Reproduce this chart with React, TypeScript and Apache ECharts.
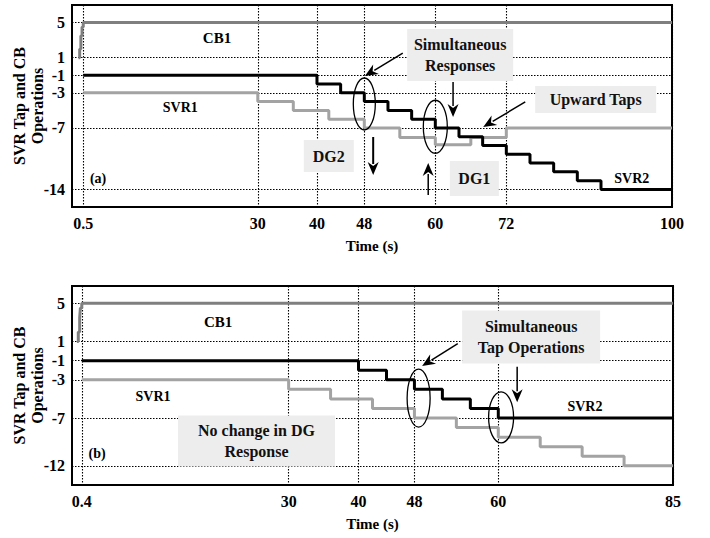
import React, { useEffect, useRef } from "react";
import * as echarts from "echarts";

// ---------- tick labels ----------
const topXTicks = [0.5, 30, 40, 48, 60, 72, 100];
const topYTicks = [5, 1, -1, -3, -7, -14];
const botXTicks = [0.4, 30, 40, 48, 60, 85];
const botYTicks = [5, 1, -1, -3, -7, -12];

// ---------- series (time s, tap position) : (a) ----------
const topCB1: [number, number][] = [
  [-0.3, 1], [-0.1, 2], [0.1, 3.5], [0.3, 4.5], [0.5, 5], [100, 5],
];
const topSVR1: [number, number][] = [
  [0.5, -3], [30, -4], [36, -5], [42, -6], [48, -7], [54, -8.1], [60, -8.9],
  [66, -8.1], [72, -7], [100, -7],
];
const topSVR2: [number, number][] = [
  [0.5, -1], [40, -2], [44, -3], [48, -4], [52, -5], [56, -6], [60, -7],
  [64, -8], [68, -9], [72, -10], [76, -11], [80, -12], [84, -13], [88, -14],
  [100, -14],
];

// ---------- series : (b) ----------
const botCB1: [number, number][] = [
  [-0.3, 1], [-0.1, 2], [0.1, 3.5], [0.2, 4.5], [0.4, 5], [85, 5],
];
const botSVR1: [number, number][] = [
  [0.4, -3], [30, -4], [36, -5], [42, -6], [48, -7], [54, -8], [60, -9],
  [66, -10], [72, -11], [78, -12], [85, -12],
];
const botSVR2: [number, number][] = [
  [0.4, -1], [40, -2], [44, -3], [48, -4], [52, -5], [56, -6], [60, -7],
  [85, -7],
];

const FONT = '"Liberation Serif", "Times New Roman", serif';
const C_CB = "#7f7f7f";
const C_SVR1 = "#a3a3a3";
const C_SVR2 = "#000000";

function axisX(grid: number, min: number, max: number, ticks: number[]) {
  return {
    type: "value",
    gridIndex: grid,
    min,
    max,
    name: "Time (s)",
    nameLocation: "middle",
    nameGap: 31,
    nameMoveOverlap: false,
    nameTextStyle: { fontFamily: FONT, fontWeight: "bold", fontSize: 15, color: "#000" },
    axisLine: { show: false },
    axisTick: { show: false, customValues: ticks },
    axisLabel: {
      customValues: ticks,
      fontFamily: FONT,
      fontWeight: "bold",
      fontSize: 16,
      color: "#000",
      margin: 8,
    },
    splitLine: { show: true, lineStyle: { color: "#000", width: 1.1, type: [1.5, 1.5] } },
  };
}

function axisY(grid: number, min: number, max: number, ticks: number[]) {
  return {
    type: "value",
    gridIndex: grid,
    min,
    max,
    name: "SVR Tap and CB\nOperations",
    nameLocation: "middle",
    nameGap: 26,
    nameMoveOverlap: false,
    nameTextStyle: {
      fontFamily: FONT,
      fontWeight: "bold",
      fontSize: 16,
      color: "#000",
      lineHeight: 18,
    },
    axisLine: { show: false },
    axisTick: { show: false, customValues: ticks },
    axisLabel: {
      customValues: ticks,
      fontFamily: FONT,
      fontWeight: "bold",
      fontSize: 16,
      color: "#000",
      margin: 7,
    },
    splitLine: { show: true, lineStyle: { color: "#000", width: 1.1, type: [1.5, 1.5] } },
  };
}

function line(name: string, data: [number, number][], color: string, idx: number) {
  return {
    name,
    type: "line",
    step: "end",
    xAxisIndex: idx,
    yAxisIndex: idx,
    data,
    symbol: "none",
    lineStyle: { color, width: 3 },
    z: 3,
  };
}

// ---------- annotations (data coordinates) ----------
type Label = { g: number; x: number; y: number; text: string; size: number };
const labels: Label[] = [
  { g: 0, x: 23.1, y: 3.2, text: "CB1", size: 15 },
  { g: 0, x: 16.9, y: -4.7, text: "SVR1", size: 14 },
  { g: 0, x: 93.2, y: -12.8, text: "SVR2", size: 14 },
  { g: 0, x: 3.0, y: -12.8, text: "(a)", size: 14 },
  { g: 1, x: 19.9, y: 3.0, text: "CB1", size: 15 },
  { g: 1, x: 10.6, y: -4.8, text: "SVR1", size: 14 },
  { g: 1, x: 72.4, y: -5.8, text: "SVR2", size: 14 },
  { g: 1, x: 2.6, y: -10.7, text: "(b)", size: 14 },
];
type Box = { g: number; x: number; y: number; w: number; h: number; text: string };
const boxes: Box[] = [
  { g: 0, x: 64.2, y: 1.3, w: 106, h: 52, text: "Simultaneous\nResponses" },
  { g: 0, x: 87.1, y: -3.76, w: 121, h: 27, text: "Upward Taps" },
  { g: 0, x: 42.0, y: -10.2, w: 50, h: 32, text: "DG2" },
  { g: 0, x: 66.6, y: -12.75, w: 49, h: 35, text: "DG1" },
  { g: 1, x: 25.4, y: -9.41, w: 157, h: 51, text: "No change in DG\nResponse" },
  { g: 1, x: 64.7, y: 1.46, w: 138, h: 53, text: "Simultaneous\nTap Operations" },
];
type Ell = { g: number; x: number; y: number; rx: number; ry: number };
const ellipses: Ell[] = [
  { g: 0, x: 48, y: -4.27, rx: 11, ry: 26 },
  { g: 0, x: 60, y: -6.86, rx: 12, ry: 26.5 },
  { g: 1, x: 48.6, y: -4.92, rx: 11.5, ry: 29 },
  { g: 1, x: 60.4, y: -6.93, rx: 12.5, ry: 25.5 },
];
type Arrow = { g: number; x1: number; y1: number; x2: number; y2: number; w: number };
const arrows: Arrow[] = [
  { g: 0, x1: 54.5, y1: 1.53, x2: 48.1, y2: -1.08, w: 1.5 },
  { g: 0, x1: 63.0, y1: -1.77, x2: 63.0, y2: -5.75, w: 1.5 },
  { g: 0, x1: 75.2, y1: -4.04, x2: 68.1, y2: -6.89, w: 1.5 },
  { g: 0, x1: 49.5, y1: -8.03, x2: 49.5, y2: -12.36, w: 2 },
  { g: 0, x1: 58.8, y1: -14.63, x2: 58.8, y2: -10.99, w: 1.5 },
  { g: 1, x1: 54.2, y1: 0.77, x2: 49.1, y2: -1.55, w: 1.5 },
  { g: 1, x1: 62.7, y1: -1.65, x2: 62.7, y2: -5.35, w: 1.5 },
];

export default function App() {
  const ref = useRef<HTMLDivElement>(null);
  useEffect(() => {
    if (!ref.current) return;
    const chart = echarts.init(ref.current, null, { renderer: "svg" });
    const gridBase = {
      show: true,
      borderColor: "#000",
      borderWidth: 2,
      containLabel: false,
      outerBoundsMode: "none",
    };
    chart.setOption({
      animation: false,
      backgroundColor: "#fff",
      grid: [
        { ...gridBase, left: 72, top: 5, width: 600, height: 202 },
        { ...gridBase, left: 72, top: 286, width: 601, height: 199 },
      ],
      xAxis: [axisX(0, -1.4, 100, topXTicks), axisX(1, -1, 85, botXTicks)],
      yAxis: [axisY(0, -16, 7, topYTicks), axisY(1, -14, 6.8, botYTicks)],
      series: [
        line("CB1 (a)", topCB1, C_CB, 0),
        line("SVR1 (a)", topSVR1, C_SVR1, 0),
        line("SVR2 (a)", topSVR2, C_SVR2, 0),
        line("CB1 (b)", botCB1, C_CB, 1),
        line("SVR1 (b)", botSVR1, C_SVR1, 1),
        line("SVR2 (b)", botSVR2, C_SVR2, 1),
      ],
    });

    const px = (g: number, x: number, y: number) =>
      chart.convertToPixel({ gridIndex: g } as any, [x, y]) as number[];

    const graphic: any[] = [];
    boxes.forEach((b) => {
      const [cx, cy] = px(b.g, b.x, b.y);
      graphic.push({
        type: "rect",
        z: 100,
        shape: { x: cx - b.w / 2, y: cy - b.h / 2, width: b.w, height: b.h },
        style: { fill: "#ededed" },
      });
      graphic.push({
        type: "text",
        z: 101,
        x: cx,
        y: cy,
        style: {
          text: b.text,
          font: `bold 16px ${FONT}`,
          fill: "#111",
          align: "center",
          verticalAlign: "middle",
          lineHeight: 21,
        },
      });
    });
    labels.forEach((l) => {
      const [cx, cy] = px(l.g, l.x, l.y);
      graphic.push({
        type: "text",
        z: 101,
        x: cx,
        y: cy,
        style: {
          text: l.text,
          font: `bold ${l.size}px ${FONT}`,
          fill: "#000",
          align: "center",
          verticalAlign: "middle",
        },
      });
    });
    ellipses.forEach((e) => {
      const [cx, cy] = px(e.g, e.x, e.y);
      graphic.push({
        type: "ellipse",
        z: 102,
        shape: { cx, cy, rx: e.rx, ry: e.ry },
        style: { fill: "transparent", stroke: "#000", lineWidth: 1.3 },
      });
    });
    arrows.forEach((a) => {
      const [x1, y1] = px(a.g, a.x1, a.y1);
      const [x2, y2] = px(a.g, a.x2, a.y2);
      const dx = x2 - x1, dy = y2 - y1;
      const len = Math.sqrt(dx * dx + dy * dy);
      const ux = dx / len, uy = dy / len;
      const L = 13, W = 5.5;
      const bx = x2 - ux * L, by = y2 - uy * L;
      graphic.push({
        type: "line",
        z: 102,
        shape: { x1, y1, x2: bx + ux * 2, y2: by + uy * 2 },
        style: { stroke: "#000", lineWidth: a.w },
      });
      graphic.push({
        type: "polygon",
        z: 102,
        shape: {
          points: [
            [x2, y2],
            [bx - uy * W, by + ux * W],
            [bx + ux * 4, by + uy * 4],
            [bx + uy * W, by - ux * W],
          ],
        },
        style: { fill: "#000" },
      });
    });
    chart.setOption({ graphic });

    return () => chart.dispose();
  }, []);
  return (
    <div
      ref={ref}
      style={{ position: "absolute", left: 0, top: 0, width: 710, height: 538 }}
    />
  );
}
